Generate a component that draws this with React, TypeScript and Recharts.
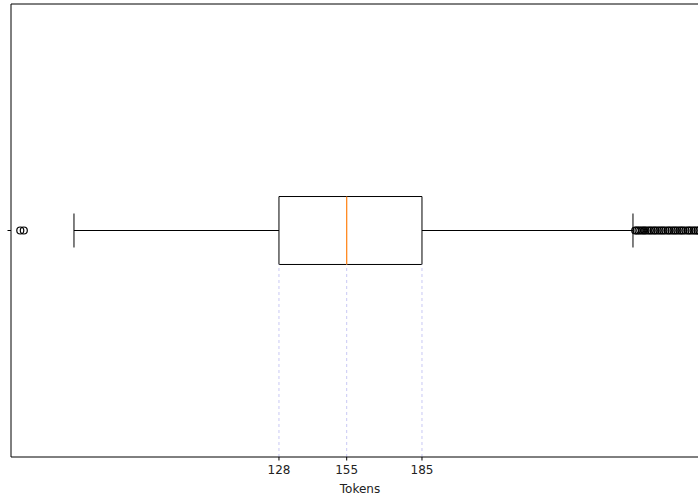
import {
  ScatterChart,
  Scatter,
  XAxis,
  YAxis,
  ReferenceArea,
  ReferenceLine,
} from 'recharts';

// box statistics (tokens)
const quartiles = [128, 155, 185];
const whiskers = [46.3, 269.1];
const lowOutliers = [24.9, 26.3];
const highOutliers = [
  270, 270.6, 271.3, 272, 272.8, 273.5, 274.1, 275, 275.8, 276.5, 277.4, 278,
  278.9, 279.7, 280.5, 281.2, 282, 283, 283.6, 284.5, 285.3, 286, 286.8, 287.7,
  288.4, 289.1, 290, 291, 291.6, 292.4, 293.3, 294, 294.9, 295.6, 296.5, 297.3,
  298, 299,
];
const xTicks = [128, 155, 185];
const xDomain = [21.2, 299.4];

const POS = 1;
const BOX_HALF = 0.075;
const CAP_HALF = 0.0375;

const fliers = [...lowOutliers, ...highOutliers].map((x) => ({ x, y: POS }));

function Ring(props: any) {
  const { cx, cy } = props;
  return <circle cx={cx} cy={cy} r={3.5} fill="none" stroke="#000" strokeWidth={1.2} />;
}

export default function App() {
  const [q1, med, q3] = quartiles;
  const [lo, hi] = whiskers;
  const font = { fontFamily: 'DejaVu Sans', fontSize: 12, fill: '#222' };

  return (
    <div
      style={{
        position: 'absolute',
        left: 0,
        top: 0,
        width: 698,
        height: 501,
        overflow: 'hidden',
        background: '#fff',
      }}
    >
      <ScatterChart
        width={710}
        height={501}
        margin={{ top: 4, right: 1, bottom: 0, left: 0 }}
        style={{ fontFamily: 'DejaVu Sans' }}
      >
        <XAxis
          type="number"
          dataKey="x"
          domain={xDomain}
          ticks={xTicks}
          allowDataOverflow
          height={44}
          tickSize={3.5}
          tickMargin={5}
          tick={font}
          axisLine={{ stroke: '#000' }}
          tickLine={{ stroke: '#000' }}
          label={{
            value: 'Tokens',
            position: 'insideBottom',
            offset: 8,
            style: { fontFamily: 'DejaVu Sans', fontSize: 12, fill: '#222' },
          }}
        />
        <YAxis
          type="number"
          dataKey="y"
          domain={[0.5, 1.5]}
          ticks={[POS]}
          tickFormatter={() => ''}
          width={11}
          tickSize={3.5}
          axisLine={{ stroke: '#000' }}
          tickLine={{ stroke: '#000' }}
        />
        {/* top spine */}
        <ReferenceLine y={1.5} stroke="#000" strokeWidth={1} />

        {/* guides from quartiles/median down to the axis */}
        {quartiles.map((q) => (
          <ReferenceLine
            key={q}
            segment={[
              { x: q, y: 0.5 },
              { x: q, y: POS - BOX_HALF },
            ]}
            stroke="#c8c8f4"
            strokeDasharray="3 3"
          />
        ))}

        {/* whiskers */}
        <ReferenceLine
          segment={[
            { x: lo, y: POS },
            { x: q1, y: POS },
          ]}
          stroke="#000"
        />
        <ReferenceLine
          segment={[
            { x: q3, y: POS },
            { x: hi, y: POS },
          ]}
          stroke="#000"
        />
        <ReferenceLine
          segment={[
            { x: lo, y: POS - CAP_HALF },
            { x: lo, y: POS + CAP_HALF },
          ]}
          stroke="#000"
        />
        <ReferenceLine
          segment={[
            { x: hi, y: POS - CAP_HALF },
            { x: hi, y: POS + CAP_HALF },
          ]}
          stroke="#000"
        />

        {/* box */}
        <ReferenceArea
          x1={q1}
          x2={q3}
          y1={POS - BOX_HALF}
          y2={POS + BOX_HALF}
          fill="none"
          stroke="#000"
          strokeWidth={1}
        />
        <ReferenceLine
          segment={[
            { x: med, y: POS - BOX_HALF },
            { x: med, y: POS + BOX_HALF },
          ]}
          stroke="#ff7f0e"
          strokeWidth={1.2}
        />

        <Scatter data={fliers} shape={Ring} isAnimationActive={false} />
      </ScatterChart>
    </div>
  );
}
